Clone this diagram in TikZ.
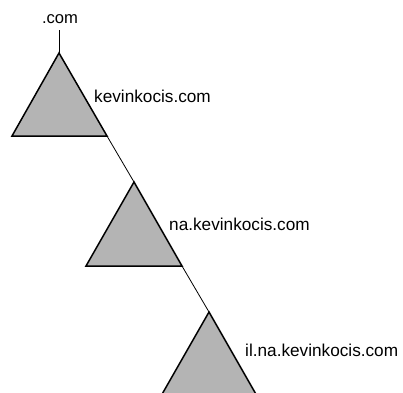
\documentclass[tikz,border=0pt]{standalone}
\usepackage{fontspec}
\setmainfont{Liberation Sans}
\begin{document}
\begin{tikzpicture}[x=1pt,y=-1pt,
  tri/.style={draw=black,line width=1.5pt,fill=triGray,line join=miter},
  conn/.style={draw=black,line width=0.8pt},
  lbl/.style={anchor=base west,inner sep=0pt,font=\fontsize{17.2}{20}\selectfont}]
\definecolor{triGray}{RGB}{180,180,180}
\useasboundingbox (0,0) rectangle (403,392);
\begin{scope}
\clip (0,0) rectangle (403,392);
% triangle 1
\coordinate (a1) at (59,53);
\coordinate (l1) at (12,136);
\coordinate (r1) at (107,136);
% triangle 2
\coordinate (a2) at (134,182);
\coordinate (l2) at (86,266);
\coordinate (r2) at (182,266);
% triangle 3
\coordinate (a3) at (209,312);
\coordinate (l3) at (161,396);
\coordinate (r3) at (257,396);
\node[anchor=base,inner sep=0pt,font=\fontsize{16.6}{20}\selectfont] (com) at (60,23) {.com};
\coordinate (comb) at (59,30);
\draw[conn] (comb) -- (a1);
\draw[conn] (r1) -- (a2);
\draw[conn] (r2) -- (a3);
\path[tri] (a1) -- (l1) -- (r1) -- cycle;
\path[tri] (a2) -- (l2) -- (r2) -- cycle;
\path[tri] (a3) -- (l3) -- (r3) -- cycle;
\node[lbl] (t1) at (94,102) {kevinkocis.com};
\node[lbl] (t2) at (169,230) {na.kevinkocis.com};
\node[lbl] (t3) at (245,356) {il.na.kevinkocis.com};
\end{scope}
\end{tikzpicture}
\end{document}
